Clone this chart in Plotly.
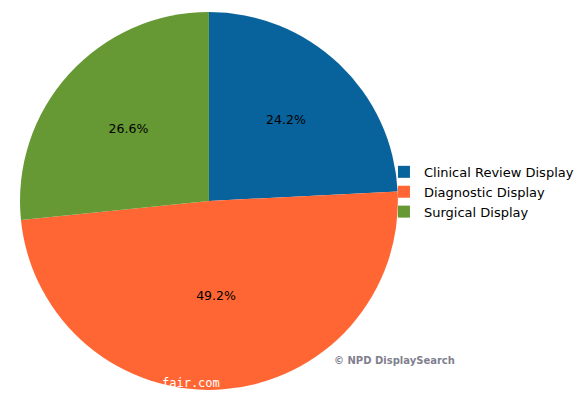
import plotly.graph_objects as go

labels = ["Clinical Review Display", "Diagnostic Display", "Surgical Display"]
values = [24.2, 49.2, 26.6]
colors = ["#08639C", "#FF6633", "#669933"]

fig = go.Figure(go.Pie(
    labels=labels,
    values=values,
    sort=False,
    direction="clockwise",
    rotation=0,
    marker=dict(colors=colors, line=dict(width=0)),
    texttemplate="%{value:.1f}%",
    textposition="inside",
    insidetextorientation="horizontal",
    textfont=dict(family="DejaVu Sans", size=12.5, color="#000000"),
    domain=dict(x=[0.0345, 0.686], y=[0.010, 0.970]),
    hoverinfo="label+percent",
))

fig.update_layout(
    width=580, height=394,
    margin=dict(l=0, r=0, t=0, b=0),
    paper_bgcolor="white",
    plot_bgcolor="white",
    showlegend=True,
    legend=dict(
        x=0.662, y=0.513, xanchor="left", yanchor="middle",
        bgcolor="rgba(0,0,0,0)",
        font=dict(family="DejaVu Sans", size=13, color="#000000"),
        itemwidth=30,
    ),
    annotations=[
        dict(text="© NPD DisplaySearch", x=0.681, y=0.084, xref="paper", yref="paper",
             xanchor="center", yanchor="middle", showarrow=False,
             font=dict(family="DejaVu Sans", size=10, color="#7F7F8F", weight="bold")),
        dict(text="fair.com", x=0.33, y=0.027, xref="paper", yref="paper",
             xanchor="center", yanchor="middle", showarrow=False,
             font=dict(family="DejaVu Sans Mono", size=12, color="#FFFFFF")),
    ],
)

fig.write_html("out.html", config={"displayModeBar": False},
               post_script="document.body.style.margin='0px';")
